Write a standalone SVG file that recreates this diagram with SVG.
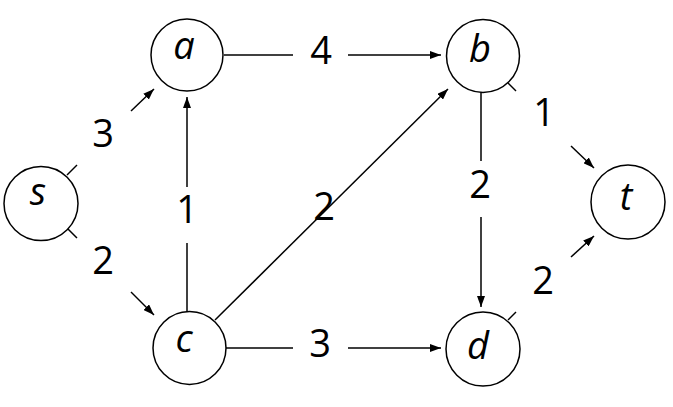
<svg xmlns="http://www.w3.org/2000/svg" width="673" height="407" viewBox="0 0 673 407">
<style>
.node{fill:#fff;stroke:#000;stroke-width:1.5}
.nl{font-family:"Open Sans","Noto Sans",sans-serif;font-style:italic;font-size:38px;fill:#000;text-anchor:middle}
.el{font-family:"Open Sans","Noto Sans",sans-serif;font-size:38px;fill:#000;text-anchor:middle}
.e{stroke:#000;stroke-width:1.5;fill:none}
.a{marker-end:url(#arr)}
</style>
<defs>
<marker id="arr" markerUnits="userSpaceOnUse" markerWidth="11" markerHeight="8" refX="11" refY="4" orient="auto">
<path d="M0,0 L11,4 L0,8 z" fill="#000"/>
</marker>
</defs>
<rect width="673" height="407" fill="#fff"/>
<g id="connectors">
<line class="e" x1="224" y1="55" x2="293" y2="55"/>
<line class="e a" x1="348" y1="55" x2="441" y2="55"/>
<text class="el" x="321" y="64">4</text>
<line class="e" x1="226" y1="348" x2="293" y2="348"/>
<line class="e a" x1="348" y1="348" x2="441" y2="348"/>
<text class="el" x="320" y="357">3</text>
<line class="e" x1="187" y1="312" x2="187" y2="243"/>
<line class="e a" x1="187" y1="187" x2="187" y2="97"/>
<text class="el" x="187" y="223">1</text>
<line class="e" x1="481" y1="92" x2="481" y2="161"/>
<line class="e a" x1="481" y1="217" x2="481" y2="307"/>
<text class="el" x="480" y="198">2</text>
<line class="e a" x1="215" y1="320" x2="448" y2="89"/>
<text class="el" x="324" y="220">2</text>
<line class="e" x1="67" y1="175" x2="77" y2="165"/>
<line class="e a" x1="131" y1="111" x2="154" y2="89"/>
<text class="el" x="103" y="147">3</text>
<line class="e" x1="67" y1="228" x2="77" y2="238"/>
<line class="e a" x1="131" y1="292" x2="154" y2="315"/>
<text class="el" x="103" y="274">2</text>
<line class="e" x1="508" y1="83" x2="516" y2="91"/>
<line class="e a" x1="571" y1="146" x2="594" y2="168"/>
<text class="el" x="544" y="126">1</text>
<line class="e" x1="508" y1="320" x2="516" y2="312"/>
<line class="e a" x1="571" y1="257" x2="594" y2="236"/>
<text class="el" x="543" y="294">2</text>
</g>
<g id="node-s"><circle class="node" cx="41" cy="203.5" r="37"/><text class="nl" x="38" y="205">s</text></g>
<g id="node-a"><circle class="node" cx="187" cy="55" r="36"/><text class="nl" x="184" y="59">a</text></g>
<g id="node-b"><circle class="node" cx="483" cy="56" r="36.5"/><text class="nl" x="480" y="62">b</text></g>
<g id="node-c"><circle class="node" cx="189.5" cy="348" r="36.5"/><text class="nl" x="184" y="352">c</text></g>
<g id="node-d"><circle class="node" cx="483" cy="349" r="37"/><text class="nl" x="478" y="359">d</text></g>
<g id="node-t"><circle class="node" cx="628" cy="202" r="37"/><text class="nl" x="626" y="210">t</text></g>
</svg>
